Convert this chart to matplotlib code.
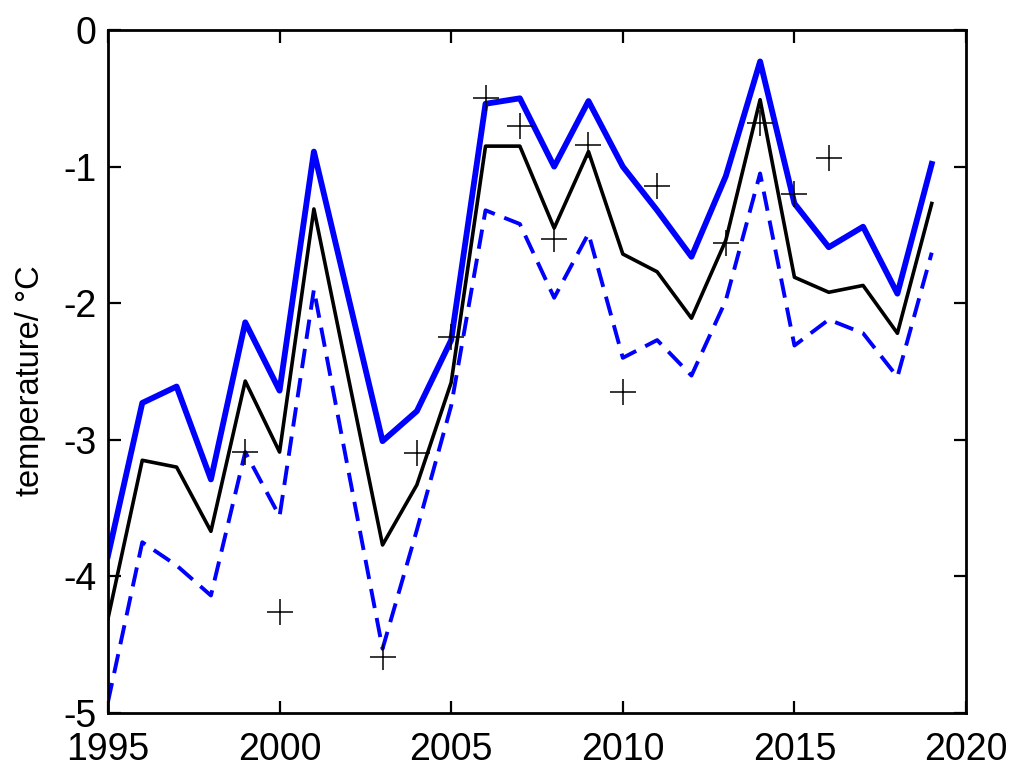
import numpy as np
import matplotlib
matplotlib.use("Agg")
import matplotlib.pyplot as plt

plt.rcParams['font.family'] = ['Liberation Sans', 'DejaVu Sans']
plt.rcParams['axes.unicode_minus'] = False

years = np.arange(1995, 2020)

# upper bound (thick blue)
upper = [-3.85, -2.73, -2.61, -3.29, -2.14, -2.64, -0.89, -1.95, -3.01, -2.79,
         -2.27, -0.54, -0.50, -1.00, -0.52, -1.00, -1.32, -1.66, -1.07, -0.23,
         -1.27, -1.59, -1.44, -1.93, -0.98]
# central estimate (black)
middle = [-4.31, -3.15, -3.20, -3.67, -2.57, -3.09, -1.31, -2.54, -3.77, -3.33,
          -2.58, -0.85, -0.85, -1.45, -0.89, -1.64, -1.77, -2.11, -1.54, -0.51,
          -1.81, -1.92, -1.87, -2.22, -1.27]
# lower bound (dashed blue)
lower = [-4.92, -3.75, -3.92, -4.14, -3.09, -3.56, -1.90, -3.22, -4.53, -3.66,
         -2.75, -1.32, -1.42, -1.96, -1.49, -2.40, -2.27, -2.53, -1.98, -1.05,
         -2.31, -2.12, -2.22, -2.54, -1.63]
# observations
obs_years = [1999, 2000, 2003, 2004, 2005, 2006, 2007, 2008, 2009, 2010,
             2011, 2013, 2014, 2015, 2016]
obs = [-3.09, -4.26, -4.59, -3.10, -2.25, -0.50, -0.70, -1.53, -0.84, -2.65,
       -1.14, -1.56, -0.68, -1.20, -0.94]

fig = plt.figure(figsize=(10.33, 7.84), dpi=100)
ax = fig.add_axes([0.1045, 0.0906, 0.8307, 0.8711])

ax.plot(years, upper, color='#0000ff', lw=4.2)
ax.plot(years, middle, color='black', lw=2.6)
ax.plot(years, lower, color='#0000ff', lw=2.8, ls=(0, (5, 2.6)))
ax.plot(obs_years, obs, ls='none', marker='+', color='black', ms=19, mew=1.1)

ax.set_xlim(1995, 2020)
ax.set_ylim(-5, 0)
ax.set_xticks(range(1995, 2021, 5))
ax.set_yticks(range(-5, 1))
ax.tick_params(direction='in', length=9, width=1.6, labelsize=27,
               top=True, right=True)
ax.tick_params(axis='x', pad=14)
ax.tick_params(axis='y', pad=8)
for s in ax.spines.values():
    s.set_linewidth(2)
ax.set_ylabel('temperature/ °C', fontsize=23.5)
ax.yaxis.set_label_coords(-0.072, 0.487)

fig.savefig('out.png', dpi=100)
